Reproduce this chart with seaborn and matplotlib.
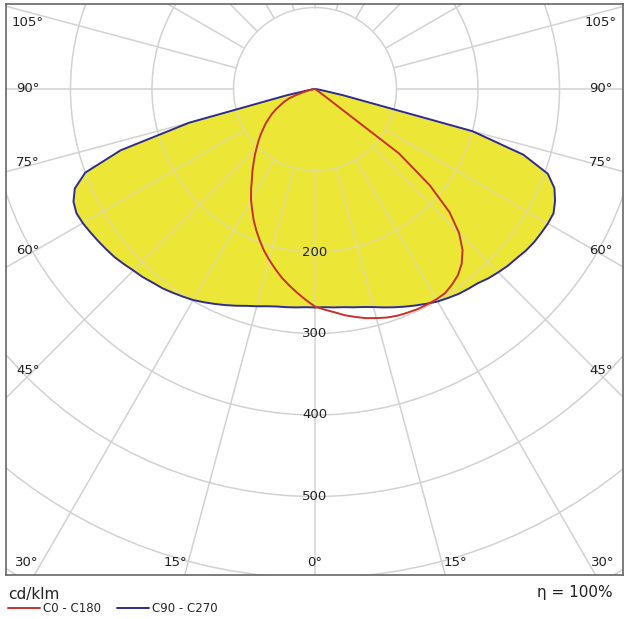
import numpy as np
import pandas as pd
import seaborn as sns
import matplotlib.pyplot as plt
from matplotlib.patches import Circle

# --- Photometric data (cd/klm) ---
# gamma angle measured from straight down (0) to horizontal (90), 2.5 deg steps
GAMMA = [0, 2.5, 5, 7.5, 10, 12.5, 15, 17.5, 20, 22.5,
         25, 27.5, 30, 32.5, 35, 37.5, 40, 42.5, 45, 47.5,
         50, 52.5, 55, 57.5, 60, 62.5, 65, 67.5, 70, 72.5,
         75, 77.5, 80, 82.5, 85, 87.5, 90]

# C0 - C180 plane (red), C0 drawn to the right, C180 to the left
C0 = [267, 271, 275, 280, 284, 288, 291, 294, 296, 297,
      298, 298, 298, 297, 293, 288, 280, 268, 250, 224,
      184, 130, 8, 0, 0, 0, 0, 0, 0, 0,
      0, 0, 0, 0, 0, 0, 0]
C180 = [267, 259, 251, 243, 235, 226, 217, 208, 198, 188,
        178, 167, 157, 146, 135, 126, 117, 109, 101, 94,
        87, 80, 74, 67, 61, 54, 47, 41, 34, 24,
        14, 8, 4, 2, 0, 0, 0]

# C90 - C270 plane (blue, filled yellow), C90 right, C270 left
C90 = [268, 268, 269, 270, 272, 274, 277, 281, 285, 289,
       293, 297, 301, 304, 307, 309, 311, 315, 318, 321,
       323, 326, 328, 329, 330, 330, 325, 318, 304, 268,
       200, 35, 8, 3, 1, 0, 0]
C270 = [268, 268, 269, 270, 271, 273, 276, 279, 283, 287,
        291, 295, 299, 302, 305, 308, 310, 313, 315, 318,
        321, 323, 325, 327, 329, 330, 327, 319, 300, 250,
        160, 35, 8, 3, 1, 0, 0]

RINGS = [100, 200, 300, 400, 500, 600, 700, 800]
RING_LABELS = [200, 300, 400, 500]
SPOKES = list(range(0, 360, 15))

SIDE_LABELS = ["105°", "90°", "75°", "60°", "45°"]
BOTTOM_LABELS = ["30°", "15°", "0°", "15°", "30°"]
ETA = "η = 100%"
UNIT = "cd/klm"

# --- Layout (pixels of the 629x619 picture) ---
W, H = 629, 619
CX, CY = 315, 89          # luminaire position
PX_PER_UNIT = 0.815       # 81.5 px per 100 cd/klm
BOX = (6, 4, 623, 575)    # left, top, right, bottom

SIDE_Y = [22, 88, 163, 250, 370]
SIDE_X = (28, 601)
BOTTOM_X = [27, 175, 315, 455, 603]
BOTTOM_Y = 562

YELLOW = "#ECE636"
RED = "#c8302a"
BLUE = "#2d2d8f"
GRID = "#d2d2d2"
GRID_ON_YELLOW = "#e2dd92"


def to_data(px, py):
    return (px - CX) / PX_PER_UNIT, (CY - py) / PX_PER_UNIT


def outline(right, left):
    g = np.radians(GAMMA)
    r = np.asarray(right, dtype=float)
    l = np.asarray(left, dtype=float)
    x = np.concatenate([r * np.sin(g), (-l * np.sin(g))[::-1]])
    y = np.concatenate([-r * np.cos(g), (-l * np.cos(g))[::-1]])
    return pd.DataFrame({"x": x, "y": y})


def draw_grid(ax, color, zorder, clip=None):
    arts = []
    for r in RINGS:
        c = Circle((0, 0), r, fill=False, ec=color, lw=1.1, zorder=zorder)
        ax.add_patch(c)
        arts.append(c)
    for a in SPOKES:
        t = np.radians(a)
        ln, = ax.plot([100 * np.sin(t), 1000 * np.sin(t)],
                      [-100 * np.cos(t), -1000 * np.cos(t)],
                      color=color, lw=1.1, zorder=zorder)
        arts.append(ln)
    if clip is not None:
        for art in arts:
            art.set_clip_path(clip)


sns.set_theme(style="white")
plt.rcParams["font.family"] = ["DejaVu Sans"]

fig = plt.figure(figsize=(W / 100, H / 100), dpi=100)
ax = fig.add_axes([BOX[0] / W, 1 - BOX[3] / H,
                   (BOX[2] - BOX[0]) / W, (BOX[3] - BOX[1]) / H])
x0, y1 = to_data(BOX[0], BOX[1])
x1, y0 = to_data(BOX[2], BOX[3])
ax.set_xlim(x0, x1)
ax.set_ylim(y0, y1)
ax.set_xticks([])
ax.set_yticks([])
for sp in ax.spines.values():
    sp.set_color("#666666")
    sp.set_linewidth(1.2)

blue_df = outline(C90, C270)
red_df = outline(C0, C180)

# polar grid on white, yellow area on top, paler grid inside the yellow
draw_grid(ax, GRID, 1)
poly = ax.fill(blue_df["x"], blue_df["y"], color=YELLOW, lw=0, zorder=2)[0]
draw_grid(ax, GRID_ON_YELLOW, 2.5, clip=poly)

sns.lineplot(data=red_df, x="x", y="y", sort=False, estimator=None,
             color=RED, lw=1.4, ax=ax, label="C0 - C180", zorder=4)
sns.lineplot(data=blue_df, x="x", y="y", sort=False, estimator=None,
             color=BLUE, lw=1.4, ax=ax, label="C90 - C270", zorder=3)
ax.set_xlabel("")
ax.set_ylabel("")
handles, labels = ax.get_legend_handles_labels()
ax.get_legend().remove()

for v in RING_LABELS:
    ax.text(0, -v, str(v), ha="center", va="center", fontsize=9.5,
            color="#222222", zorder=5)

for lab, py in zip(SIDE_LABELS, SIDE_Y):
    for px in SIDE_X:
        ax.text(*to_data(px, py), lab, ha="center", va="center",
                fontsize=9.5, color="#222222", zorder=5)
for lab, px in zip(BOTTOM_LABELS, BOTTOM_X):
    ax.text(*to_data(px, BOTTOM_Y), lab, ha="center", va="center",
            fontsize=9.5, color="#222222", zorder=5)

fig.text(8 / W, 1 - 594 / H, UNIT, fontsize=11, ha="left", va="center",
         color="#222222")
fig.text(613 / W, 1 - 593 / H, ETA, fontsize=11, ha="right", va="center",
         color="#222222")
fig.legend(handles, labels, loc="center left",
           bbox_to_anchor=(8 / W, 1 - 609 / H), ncol=2, frameon=False,
           fontsize=8.5, handlelength=2.7, handletextpad=0.3,
           columnspacing=1.3, borderpad=0, borderaxespad=0)

fig.savefig("out.png", dpi=100)
